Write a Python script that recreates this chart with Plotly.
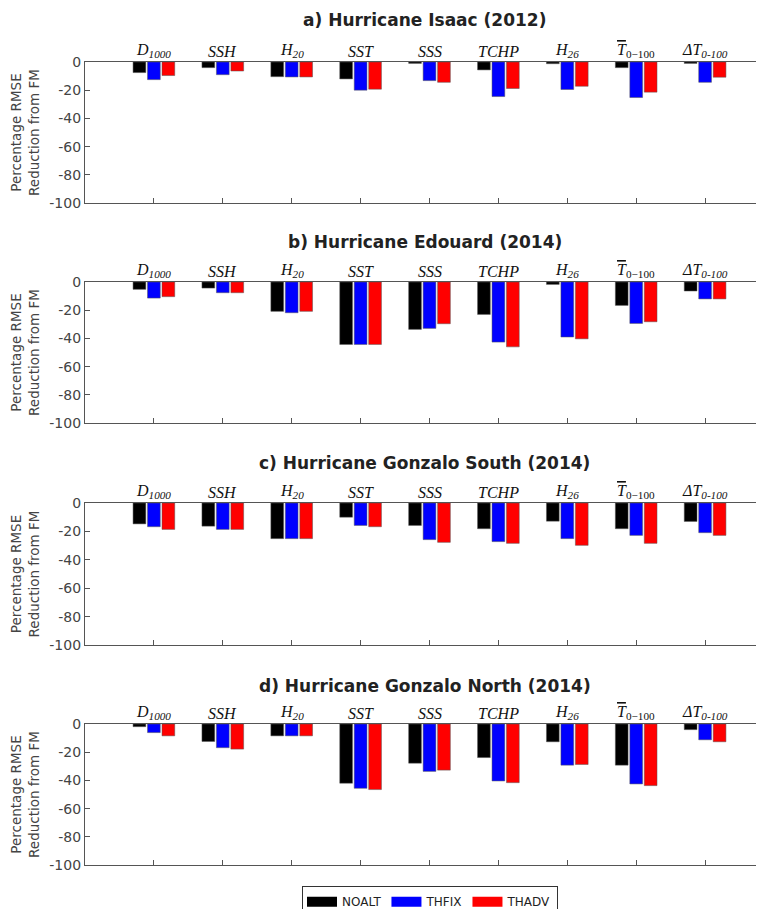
import plotly.graph_objects as go

categories = ["D1000", "SSH", "H20", "SST", "SSS", "TCHP", "H26", "Tbar0-100", "dT0-100"]
category_labels = [
    "<i>D<sub>1000</sub></i>",
    "<i>SSH</i>",
    "<i>H<sub>20</sub></i>",
    "<i>SST</i>",
    "<i>SSS</i>",
    "<i>TCHP</i>",
    "<i>H<sub>26</sub></i>",
    "<span style='text-decoration:overline'><i>T</i></span><sub>0\u2212100</sub>",
    "<i>\u0394T<sub>0-100</sub></i>",
]
series_names = ["NOALT", "THFIX", "THADV"]
series_colors = ["#000000", "#0000ff", "#ff0000"]

panel_titles = [
    "a) Hurricane Isaac (2012)",
    "b) Hurricane Edouard (2014)",
    "c) Hurricane Gonzalo South (2014)",
    "d) Hurricane Gonzalo North (2014)",
]

# Percentage RMSE reduction from FM (negative = reduction)
isaac_noalt = [-7.5, -4.0, -10.4, -12.0, -1.0, -5.6, -1.2, -4.0, -1.0]
isaac_thfix = [-12.5, -9.0, -10.6, -20.0, -13.2, -24.5, -19.5, -25.2, -14.4]
isaac_thadv = [-9.6, -6.4, -10.6, -19.3, -14.4, -18.8, -17.2, -21.4, -10.8]

edouard_noalt = [-5.2, -4.3, -20.8, -44.3, -33.6, -23.0, -1.7, -16.6, -6.4]
edouard_thfix = [-11.4, -7.6, -21.8, -44.3, -32.9, -42.6, -39.0, -29.4, -12.0]
edouard_thadv = [-10.4, -7.6, -20.8, -44.3, -29.6, -46.0, -40.3, -28.2, -12.0]

gonzalo_s_noalt = [-14.7, -16.3, -25.1, -10.0, -15.8, -18.1, -12.8, -18.1, -13.0]
gonzalo_s_thfix = [-16.7, -18.6, -25.1, -15.8, -25.8, -27.2, -25.1, -22.8, -20.9]
gonzalo_s_thadv = [-18.6, -18.6, -25.1, -16.7, -27.7, -28.4, -29.8, -28.4, -22.8]

gonzalo_n_noalt = [-1.9, -12.4, -8.4, -42.0, -27.8, -23.8, -12.6, -29.2, -4.0]
gonzalo_n_thfix = [-6.1, -16.8, -8.4, -45.6, -33.6, -40.4, -29.2, -42.5, -11.2]
gonzalo_n_thadv = [-8.4, -17.8, -8.4, -46.5, -32.7, -41.6, -28.7, -43.7, -12.6]

panels = [
    [isaac_noalt, isaac_thfix, isaac_thadv],
    [edouard_noalt, edouard_thfix, edouard_thadv],
    [gonzalo_s_noalt, gonzalo_s_thfix, gonzalo_s_thadv],
    [gonzalo_n_noalt, gonzalo_n_thfix, gonzalo_n_thadv],
]

yticks = [0, -20, -40, -60, -80, -100]

# the page body adds an 8 px offset; work in page pixels and shift
OFF = 8
W, H = 764 - OFF, 909 - OFF
# page-pixel rows of zero line (top) and -100 (bottom) of each panel
panel_px = [(62, 203), (282, 423), (503, 645), (724, 865)]
title_px = [20, 242, 463, 686]
left_px = 85 - OFF
plot_w = W - left_px

fig = go.Figure()
xpos = list(range(len(categories)))

layout_axes = {}
annotations = []
for p, (series, (top, bot)) in enumerate(zip(panels, panel_px)):
    n = "" if p == 0 else str(p + 1)
    xa, ya = "x" + n, "y" + n
    for s, vals in enumerate(series):
        fig.add_trace(go.Bar(
            x=xpos, y=vals, name=series_names[s], xaxis=xa, yaxis=ya,
            marker=dict(color=series_colors[s], line=dict(width=0.5, color="#555555")),
            showlegend=False, legendgroup=series_names[s],
        ))
    dom = [1 - (bot - OFF) / H, 1 - (top - OFF) / H]
    layout_axes["xaxis" + n] = dict(
        domain=[0, 1], anchor=ya, range=[-1, 8.855],
        tickvals=xpos, ticktext=[""] * len(xpos), ticks="inside", ticklen=5,
        tickcolor="#555555", showline=True, linecolor="#555555", linewidth=1.3,
        mirror=True, showgrid=False, zeroline=False,
    )
    layout_axes["yaxis" + n] = dict(
        domain=dom, anchor=xa, range=[-100, 0],
        tickvals=yticks, ticktext=[str(v) for v in yticks],
        ticks="inside", ticklen=5, tickcolor="#555555",
        showline=True, linecolor="#555555", linewidth=1.3,
        showgrid=False, zeroline=False,
        tickfont=dict(family="DejaVu Sans", size=14, color="#444444"),
        title=dict(text="Percentage RMSE<br>Reduction from FM",
                   font=dict(family="DejaVu Sans", size=13.5, color="#444444"),
                   standoff=8),
    )
    for i, lab in enumerate(category_labels):
        annotations.append(dict(
            x=i, y=0, xref=xa, yref=ya, text=lab, showarrow=False,
            yanchor="bottom", yshift=0,
            font=dict(family="Liberation Serif", size=16, color="#111111"),
        ))
    annotations.append(dict(
        x=0.5, y=1 - (title_px[p] - OFF) / H, xref="paper", yref="paper",
        text="<b>" + panel_titles[p] + "</b>", showarrow=False,
        xanchor="center", yanchor="middle",
        font=dict(family="DejaVu Sans", size=17, color="#222222"),
    ))

# legend entries (wide swatches)
for s in range(3):
    fig.add_trace(go.Scatter(
        x=[None], y=[None], mode="lines", name=series_names[s],
        line=dict(color=series_colors[s], width=11), legendgroup=series_names[s],
        showlegend=True,
    ))

fig.update_layout(
    width=W, height=H,
    margin=dict(l=left_px, r=0, t=0, b=0, autoexpand=False),
    paper_bgcolor="white", plot_bgcolor="white",
    barmode="group", bargap=0.37, bargroupgap=0.12,
    annotations=annotations,
    showlegend=True,
    legend=dict(
        orientation="h", x=(430 - 85) / plot_w, xanchor="center",
        y=1 - (886 - OFF) / H, yanchor="top",
        bordercolor="#333333", borderwidth=1.3, bgcolor="white",
        font=dict(family="DejaVu Sans", size=12, color="#222222"),
        itemwidth=30, tracegroupgap=0,
    ),
    **layout_axes,
)

fig.write_html("out.html")
